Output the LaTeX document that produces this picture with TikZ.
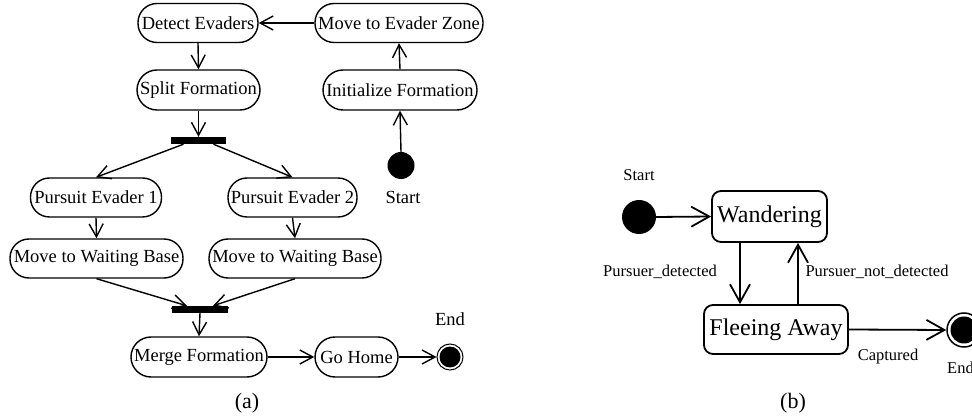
\documentclass[tikz,border=0pt]{standalone}
\usepackage{fontspec}
\setmainfont{Liberation Serif}
\usetikzlibrary{arrows.meta}
\begin{document}
\begin{tikzpicture}[x=1pt,y=-1pt,
  act/.style={draw,line width=1.4pt,rounded corners=19pt,minimum height=39pt,inner sep=0pt,font=\fontsize{18.5}{20}\selectfont},
  bar/.style={fill,minimum width=55pt,minimum height=7pt,inner sep=0pt},
  arr/.style={line width=1.4pt,-{Straight Barb[length=13pt,width=14pt]}},
  lbla/.style={inner sep=0pt,font=\fontsize{18.5}{20}\selectfont},
  stat/.style={draw,line width=1.8pt,rounded corners=9pt,inner sep=0pt,font=\fontsize{24}{26}\selectfont},
  arrb/.style={line width=1.8pt,-{Straight Barb[length=18pt,width=20pt]}},
  lblb/.style={inner sep=0pt,font=\fontsize{16.5}{18}\selectfont},
  capt/.style={inner sep=0pt,font=\fontsize{22}{24}\selectfont}]
\useasboundingbox (0,0) rectangle (972,419);
\clip (0,0) rectangle (972,419);
% ---------- (a) ----------
\node[act,minimum width=120pt] (det) at (198,23) {\makebox[0pt]{Detect Evaders}};
\node[act,minimum width=168pt] (mez) at (399,23) {\makebox[0pt]{Move to Evader Zone}};
\node[act,minimum width=123pt,minimum height=40pt,rounded corners=20pt] (split) at (198.5,90) {\makebox[0pt]{Split Formation}};
\node[act,minimum width=154pt,minimum height=40pt,rounded corners=20pt] (init) at (400,90) {\makebox[0pt]{Initialize Formation}};
\node[bar] (fork) at (198.5,140.5) {};
\node[circle,fill,minimum size=27pt,inner sep=0pt] (starta) at (401,165.5) {};
\node[lbla] (startalbl) at (403,197) {Start};
\node[act,minimum width=131pt] (pe1) at (96,197.5) {\makebox[0pt]{Pursuit Evader 1}};
\node[act,minimum width=129pt] (pe2) at (292.5,197.5) {\makebox[0pt]{Pursuit Evader 2}};
\node[act,minimum width=173pt] (mwb1) at (96.5,258.5) {\makebox[0pt]{Move to Waiting Base}};
\node[act,minimum width=172pt] (mwb2) at (295,258.5) {\makebox[0pt]{Move to Waiting Base}};
\node[bar,minimum width=56pt] (join) at (200,309.5) {};
\node[act,minimum width=136pt,minimum height=40pt,rounded corners=20pt] (merge) at (199,357) {\makebox[0pt]{Merge Formation}};
\node[act,minimum width=83pt,minimum height=40pt,rounded corners=20pt] (home) at (356.5,357) {\makebox[0pt]{Go Home}};
\node[circle,draw,line width=1pt,minimum size=26pt,inner sep=0pt] (enda) at (450,357) {};
\node[circle,fill,minimum size=21pt,inner sep=0pt] (endain) at (450,357) {};
\node[lbla] (endalbl) at (450,319) {End};
\node[capt] (capa) at (247,403) {(a)};
\draw[arr] (mez.west) -- (det.east);
\draw[arr] (det.south) -- (split.north);
\draw[arr] (split.south) -- (fork.north);
\draw[arr] ([xshift=-15pt]fork.south) -- (pe1.north);
\draw[arr] ([xshift=15pt]fork.south) -- (pe2.north);
\draw[arr] (pe1.south) -- (mwb1.north);
\draw[arr] (pe2.south) -- (mwb2.north);
\draw[arr] (mwb1.south) -- ([xshift=-13pt]join.north);
\draw[arr] (mwb2.south) -- ([xshift=13pt]join.north);
\draw[arr] (join.south) -- (merge.north);
\draw[arr] (merge.east) -- (home.west);
\draw[arr] (home.east) -- (enda.west);
\draw[arr] (starta.north) -- (init.south);
\draw[arr] (init.north) -- (mez.south);
% ---------- (b) ----------
\node[stat,minimum width=115pt,minimum height=51pt] (wand) at (769.5,216.5) {\makebox[0pt]{Wandering}};
\node[stat,minimum width=144pt,minimum height=49pt] (flee) at (776,329.5) {\makebox[0pt]{Fleeing Away}};
\node[circle,fill,minimum size=34pt,inner sep=0pt] (startb) at (639,217) {};
\node[lblb] (startblbl) at (639,175) {Start};
\node[circle,draw,line width=1.5pt,minimum size=34pt,inner sep=0pt] (endb) at (964,330) {};
\node[circle,fill,minimum size=27pt,inner sep=0pt] (endbin) at (964,330) {};
\node[lblb,anchor=west] (endblbl) at (947,368) {End};
\node[lblb] (pd) at (660,272) {Pursuer\_detected};
\node[lblb] (pnd) at (877,272) {Pursuer\_not\_detected};
\node[lblb] (capd) at (888,357) {Captured};
\node[capt] (capb) at (793,403) {(b)};
\draw[arrb] (startb.east) -- (wand.west);
\draw[arrb] ([xshift=-29.5pt]wand.south) -- ([xshift=-36pt]flee.north);
\draw[arrb] ([xshift=22pt]flee.north) -- ([xshift=28.5pt]wand.south);
\draw[arrb] (flee.east) -- (endb.west);
\end{tikzpicture}
\end{document}
